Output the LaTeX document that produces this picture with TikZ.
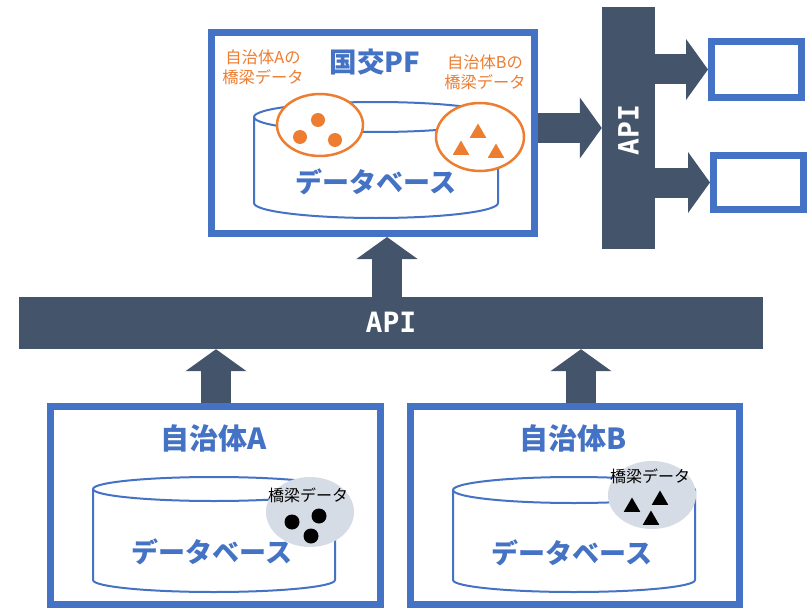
\documentclass[tikz,border=0pt]{standalone}
\usepackage{fontspec}
\setmainfont{Noto Sans CJK JP}
\newfontfamily\apifont{DejaVu Sans Mono}
\usetikzlibrary{arrows.meta,shapes.geometric}
\definecolor{myblue}{HTML}{4472C4}
\definecolor{mydark}{HTML}{44546A}
\definecolor{myorange}{HTML}{ED7D31}
\definecolor{mygray}{HTML}{D6DCE5}
\begin{document}
\begin{tikzpicture}[x=1pt,y=-1pt,
  frame/.style={draw=myblue, line width=7pt, fill=white, inner sep=0pt},
  darkbar/.style={fill=mydark, inner sep=0pt, text=white},
  blockarrow/.style={draw=mydark, line width=30pt, -{Triangle[width=60pt,length=22pt]}},
  cyl/.style={draw=myblue, line width=2pt},
  title/.style={text=myblue, font=\fontsize{29}{32}\selectfont\bfseries, inner sep=0pt},
  pftitle/.style={text=myblue, font=\fontsize{27.5}{32}\selectfont\bfseries, inner sep=0pt},
  dbtext/.style={text=myblue, font=\fontsize{27}{32}\selectfont\bfseries, inner sep=0pt},
  otext/.style={text=myorange, font=\fontsize{16.3}{19.5}\selectfont, align=center, inner sep=0pt},
  btext/.style={text=black, font=\fontsize{16}{19}\selectfont, inner sep=0pt},
  oell/.style={ellipse, draw=myorange, line width=2.5pt, fill=white, inner sep=0pt},
  gell/.style={ellipse, fill=mygray, inner sep=0pt},
  odot/.style={circle, fill=myorange, minimum size=14pt, inner sep=0pt},
  bdot/.style={circle, fill=black, minimum size=15pt, inner sep=0pt},
  otri/.style={regular polygon, regular polygon sides=3, fill=myorange, minimum size=19pt, inner sep=0pt},
  btri/.style={regular polygon, regular polygon sides=3, fill=black, minimum size=19pt, inner sep=0pt},
  apitext/.style={font=\apifont\fontsize{28}{32}\selectfont\bfseries, text=white}
]
\useasboundingbox (0,0) rectangle (812,610);

% ---------- main boxes ----------
\node[frame, minimum width=323pt, minimum height=201pt] (pf) at (373,133) {};
\node[darkbar, minimum width=53pt, minimum height=242pt] (apiv) at (628.5,128) {};
\node[apitext, rotate=90] (apivt) at (628.5,130) {API};
\node[frame, minimum width=90pt, minimum height=56pt] (out1) at (756.5,69.5) {};
\node[frame, minimum width=90pt, minimum height=54pt] (out2) at (758.5,182.5) {};
\node[darkbar, minimum width=744pt, minimum height=52pt] (apih) at (391,323) {};
\node[apitext] (apiht) at (391,322) {API};
\node[frame, minimum width=330pt, minimum height=198pt] (boxA) at (215.5,505.5) {};
\node[frame, minimum width=329pt, minimum height=198pt] (boxB) at (575,505.5) {};

% ---------- block arrows ----------
\coordinate (xup) at (387,0);
\coordinate (xa) at (216,0);
\coordinate (xb) at (581,0);
\draw[blockarrow] (pf.east |- apiv.center) -- (apiv.west);
\draw[blockarrow] (apiv.east |- out1.west) -- (out1.west);
\draw[blockarrow] (apiv.east |- out2.west) -- (out2.west);
\draw[blockarrow] (apih.north -| xup) -- (pf.south -| xup);
\draw[blockarrow] (boxA.north -| xa) -- (apih.south -| xa);
\draw[blockarrow] (boxB.north -| xb) -- (apih.south -| xb);

% ---------- PF contents ----------
\node[pftitle] (pft) at (375,62) {国交PF};
\draw[cyl] (254,117) -- (254,203) arc[start angle=180, end angle=0, x radius=122, y radius=15] -- (498,117);
\draw[cyl] (376,117) ellipse[x radius=122, y radius=15];
\node[dbtext] (pfdb) at (376,182) {データベース};
\node[otext] (oa) at (263,67.5) {自治体Aの\\橋梁データ};
\node[otext] (ob) at (485,72.5) {自治体Bの\\橋梁データ};
\node[oell, minimum width=86pt, minimum height=62pt] (ea) at (320,125) {};
\node[oell, minimum width=88pt, minimum height=68pt] (eb) at (480,137) {};
\node[odot] (d1) at (300,137) {};
\node[odot] (d2) at (318,120) {};
\node[odot] (d3) at (335,140) {};
\node[otri] (t1) at (478,133) {};
\node[otri] (t2) at (461,150) {};
\node[otri] (t3) at (496,153) {};

% ---------- box A ----------
\node[title] (at) at (214,438) {自治体A};
\draw[cyl] (93,489) -- (93,580) arc[start angle=180, end angle=0, x radius=121, y radius=12] -- (335,489);
\draw[cyl] (214,489) ellipse[x radius=121, y radius=12];
\node[dbtext] (adb) at (212,552) {データベース};
\node[gell, minimum width=88pt, minimum height=70pt] (ga) at (310,512) {};
\node[btext] (gat) at (308,495) {橋梁データ};
\node[bdot] (a1) at (292,522) {};
\node[bdot] (a2) at (319,516) {};
\node[bdot] (a3) at (311,536) {};

% ---------- box B ----------
\node[title] (bt) at (573,438) {自治体B};
\draw[cyl] (453,490) -- (453,580) arc[start angle=180, end angle=0, x radius=121, y radius=12] -- (695,490);
\draw[cyl] (574,490) ellipse[x radius=121, y radius=13];
\node[dbtext] (bdb) at (572,553) {データベース};
\node[gell, minimum width=88pt, minimum height=68pt] (gb) at (652,495) {};
\node[btext] (gbt) at (650,476) {橋梁データ};
\node[btri] (b1) at (632,507) {};
\node[btri] (b2) at (660,500) {};
\node[btri] (b3) at (651,520) {};
\end{tikzpicture}
\end{document}
